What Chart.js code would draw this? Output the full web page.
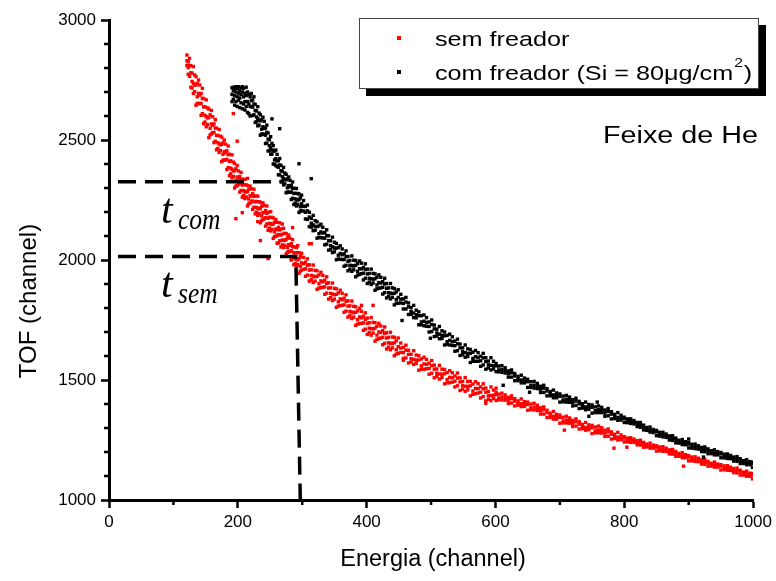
<!DOCTYPE html>
<html>
<head>
<meta charset="utf-8">
<script src="https://cdn.jsdelivr.net/npm/chart.js@4.4.1/dist/chart.umd.min.js"></script>
<style>
  html, body { margin: 0; padding: 0; background: #fff; }
  #wrap { width: 776px; height: 581px; }
</style>
</head>
<body>
<div id="wrap"><canvas id="tofChart" width="776" height="581"></canvas></div>
<script>
// each row: [Energia channel, TOF channel, TOF channel, ...]

// sem freador (red)
const SEM_FREADOR = [
  [121,2854,2810,2830],[123,2802,2774,2826],[125,2810,2765,2840],[127,2720,2780,2810],[129,2779,2716,2744],
  [131,2806,2736,2694],[133,2701,2771,2729],[135,2729,2645,2764],[137,2652,2736,2680],[139,2694,2750,2652],
  [141,2729,2652,2687],[143,2652,2603,2694],[145,2673,2610,2715],[147,2568,2638,2673],[149,2638,2575,2603],
  [151,2667,2597,2555],[153,2564,2634,2592],[155,2594,2510,2629],[157,2521,2605,2549],[159,2567,2623,2525],
  [161,2597,2531,2561],[163,2531,2489,2567],[165,2549,2495,2585],[167,2459,2519,2549],[169,2519,2465,2489],
  [171,2544,2484,2448],[173,2456,2516,2480],[175,2482,2410,2512],[177,2416,2488,2440],[179,2452,2500,2416],
  [181,2483,2417,2447],[183,2419,2377,2455],[185,2439,2385,2475],[187,2351,2411,2441],[189,2413,2359,2383],
  [191,2438,2378,2342],[193,2348,2408,2372,2610],[195,2372,2300,2402],[197,2308,2380,2332,2172],[199,2346,2394,2310,2495],
  [201,2371,2316,2341],[203,2318,2283,2348],[205,2335,2290,2365],[207,2262,2312,2337,2197],[209,2314,2269,2289],
  [211,2336,2286,2256],[213,2263,2313,2283],[215,2285,2225,2310,2340],[217,2234,2294,2254],[219,2268,2308,2238],
  [221,2297,2242,2267],[223,2246,2211,2276],[225,2265,2220,2295],[227,2192,2242,2267],[229,2244,2199,2219],
  [231,2266,2216,2186,2160],[233,2193,2243,2213],[235,2215,2155,2240,2081],[237,2164,2224,2184],[239,2198,2238,2168],
  [241,2227,2172,2197],[243,2176,2141,2206],[245,2195,2150,2225],[247,2124,2174,2199,2006],[249,2178,2133,2153],
  [251,2201,2151,2121],[253,2128,2178,2148],[255,2150,2090,2175],[257,2097,2157,2117],[259,2129,2169,2099],
  [261,2157,2102,2127,2070],[263,2106,2071,2136],[265,2125,2080,2155],[267,2054,2104,2129],[269,2108,2063,2083,2150],
  [271,2132,2082,2052],[273,2061,2111,2081],[275,2085,2025,2110],[277,2032,2092,2052],[279,2064,2104,2034],
  [281,2091,2036,2061],[283,2038,2003,2068,2000],[285,2055,2010,2085,2135],[287,1980,2030,2055],[289,2030,1985,2005],
  [291,2052,2002,1972],[293,1981,2031,2001,2060],[295,2005,1945,2030],[297,1954,2014,1974],[299,1988,2028,1958],
  [302,2011,1961,1984],[305,1963,1932,1991],[308,1978,1937,2005],[311,1912,1958,1980,2068],[314,1959,1918,1936,2068],
  [317,1979,1933,1906],[320,1912,1957,1930],[323,1932,1878,1955],[326,1883,1938,1901],[329,1913,1949,1885],
  [332,1936,1886,1909],[335,1888,1857,1916],[338,1903,1862,1930],[341,1837,1883,1905],[344,1884,1843,1861],
  [347,1904,1858,1831],[350,1837,1882,1855],[353,1857,1803,1880],[356,1808,1863,1826],[359,1838,1874,1810],
  [362,1861,1811,1834],[365,1813,1782,1841],[368,1828,1787,1855],[371,1762,1808,1830],[374,1809,1768,1786],
  [377,1829,1783,1756],[380,1762,1807,1780],[383,1782,1728,1805],[386,1733,1788,1751],[389,1763,1799,1735],
  [392,1786,1736,1759,1811],[395,1738,1707,1766],[398,1753,1712,1780],[401,1690,1736,1758],[404,1739,1698,1716],
  [407,1760,1714,1687],[410,1695,1740,1713,1811],[413,1716,1662,1739],[416,1669,1724,1687],[419,1700,1736,1672],
  [422,1725,1675,1698],[425,1678,1647,1706],[428,1694,1653,1721],[431,1629,1675,1697],[434,1678,1637,1655],
  [437,1699,1653,1626],[440,1634,1679,1652],[443,1655,1601,1678],[446,1608,1663,1626],[449,1639,1675,1611],
  [453,1654,1615,1633],[457,1614,1590,1636,1582],[461,1624,1592,1645],[465,1571,1607,1624],[469,1607,1575,1589],
  [473,1622,1586,1565],[477,1569,1604,1583],[481,1583,1541,1601],[485,1545,1588,1559],[489,1567,1595,1545],
  [493,1586,1547,1565],[497,1548,1524,1570],[501,1560,1528,1581],[505,1509,1545,1562],[509,1546,1514,1528],
  [513,1561,1525,1504],[517,1510,1545,1524],[521,1526,1484,1544],[525,1488,1531,1502],[529,1511,1539,1489],
  [533,1530,1491,1509],[537,1495,1471,1517],[541,1508,1476,1529],[545,1456,1492,1509],[549,1494,1462,1476],
  [553,1510,1474,1453],[557,1459,1494,1473],[561,1476,1434,1494],[565,1440,1483,1454],[569,1465,1493,1443],
  [573,1485,1446,1464],[577,1449,1425,1471],[581,1463,1431,1484],[585,1413,1449,1466,1403],[589,1452,1420,1434],
  [593,1471,1435,1414],[597,1423,1458,1437],[601,1439,1415,1449,1466],[605,1417,1441,1425],[610,1429,1445,1417],
  [615,1438,1416,1426],[620,1416,1402,1428],[625,1422,1404,1434],[630,1392,1412,1422],[635,1413,1395,1403],
  [640,1421,1401,1389],[645,1390,1410,1398],[650,1398,1374,1408],[655,1376,1400,1384],[660,1387,1403,1375],
  [665,1395,1373,1383],[670,1372,1358,1384],[675,1376,1358,1388],[680,1344,1364,1374],[685,1362,1344,1352],
  [690,1369,1349,1337],[695,1337,1357,1345],[700,1344,1320,1354],[705,1321,1345,1329],[707,1291],
  [710,1333,1349,1321],[715,1342,1320,1330],[720,1320,1306,1332],[725,1326,1308,1338],[730,1296,1316,1326],
  [735,1315,1297,1305],[740,1323,1303,1291],[745,1293,1313,1301],[750,1301,1277,1311],[755,1280,1304,1288],
  [760,1292,1308,1280],[765,1301,1279,1289],[770,1279,1265,1291],[775,1284,1266,1296],[780,1254,1274,1284],
  [784,1216],[785,1274,1256,1264],[790,1282,1262,1250],[795,1251,1271,1259],[800,1258,1242,1264],[804,1220],
  [805,1242,1258,1247],[810,1248,1259,1240],[815,1254,1240,1247],[820,1239,1230,1247],[825,1241,1229,1249],
  [830,1220,1233,1240],[835,1233,1221,1226],[840,1237,1224,1216],[845,1216,1229,1221],[850,1220,1204,1226],
  [855,1205,1221,1210],[860,1211,1222,1203],[865,1216,1202,1209],[870,1201,1192,1209],[875,1203,1191,1211],
  [880,1182,1195,1202],[885,1194,1182,1187],[890,1197,1184,1176],[892,1141],[895,1176,1189,1181],
  [900,1179,1163,1185],[905,1163,1179,1168],[910,1169,1180,1161],[915,1174,1160,1167],[920,1159,1150,1167],
  [925,1161,1149,1169],[930,1141,1154,1161],[935,1153,1141,1146],[940,1158,1145,1137],[945,1137,1150,1142],
  [950,1141,1125,1147],[955,1126,1142,1131],[960,1132,1143,1124],[965,1137,1123,1130],[970,1123,1114,1131],
  [975,1125,1113,1133],[980,1104,1117,1124],[985,1116,1104,1109],[990,1120,1107,1099],[995,1099,1112,1104],
  [999,1104,1088,1110]
];

// com freador (black)
const COM_FREADOR = [
  [191,2718,2690,2660],[193,2705,2670,2720],[195,2712,2645,2685],[197,2700,2660,2722],[199,2715,2640,2680],
  [201,2722,2665,2695],[203,2705,2635,2675],[205,2718,2655,2690],[207,2700,2630,2722],[209,2715,2650,2680],
  [211,2695,2625,2660],[213,2720,2640,2685],[215,2700,2615,2660],[217,2690,2610,2650],[219,2680,2600,2640],
  [221,2694,2639,2664],[223,2637,2602,2667],[225,2650,2605,2680],[227,2573,2623,2648],[229,2621,2576,2596],
  [231,2639,2589,2559],[233,2562,2612,2582],[235,2580,2520,2605],[237,2525,2585,2545],[239,2555,2595,2525],
  [241,2578,2523,2548],[243,2520,2485,2550],[245,2532,2487,2562],[247,2454,2504,2529],[249,2501,2456,2476],
  [251,2514,2468,2441],[253,2441,2486,2459,2588],[255,2454,2400,2477],[257,2399,2454,2417],[259,2422,2458,2394],
  [261,2440,2390,2413],[263,2386,2355,2414],[265,2396,2355,2423,2547],[267,2326,2372,2394],[269,2370,2329,2347],
  [271,2386,2340,2313],[273,2317,2362,2335],[275,2334,2280,2357],[277,2283,2338,2301],[279,2310,2346,2282],
  [281,2332,2282,2305],[283,2283,2252,2311],[285,2298,2257,2325],[287,2231,2277,2299],[289,2278,2237,2255],
  [291,2298,2252,2225],[293,2232,2277,2250],[295,2252,2198,2275,2401],[297,2204,2259,2222],[299,2234,2270,2206],
  [302,2248,2204,2224],[305,2199,2171,2223],[308,2205,2169,2229],[311,2139,2179,2199],[314,2173,2137,2153,2339],
  [317,2186,2146,2122],[320,2124,2164,2140],[323,2139,2091,2159],[326,2094,2142,2110],[329,2117,2149,2093],
  [332,2136,2092,2112],[335,2091,2063,2115],[338,2102,2066,2126],[341,2041,2081,2101],[344,2080,2044,2060],
  [347,2095,2055,2031],[350,2034,2074,2050],[353,2049,2001,2069],[356,2004,2052,2020],[359,2027,2059,2003],
  [362,2046,2002,2022],[365,2002,1974,2026],[368,2014,1978,2038],[371,1955,1995,2015],[374,1998,1962,1978],
  [377,2017,1977,1953],[380,1959,1999,1975],[383,1978,1930,1998],[386,1937,1985,1953],[389,1964,1996,1940],
  [392,1987,1943,1963],[395,1945,1917,1969],[398,1960,1924,1984],[401,1902,1942,1962],[404,1944,1908,1924],
  [407,1962,1922,1898],[410,1904,1944,1920],[413,1922,1874,1942],[416,1880,1928,1896],[419,1906,1938,1882],
  [422,1928,1884,1904],[425,1886,1858,1910],[428,1900,1864,1924],[431,1842,1882,1902],[434,1884,1848,1864],
  [437,1902,1862,1838],[440,1844,1884,1860],[443,1861,1813,1881],[446,1819,1867,1835],[449,1844,1876,1820],
  [453,1857,1821,1837],[455,1748],[457,1819,1796,1838],[461,1825,1796,1844],[465,1773,1805,1821],
  [469,1802,1773,1786],[473,1811,1779,1760],[477,1759,1791,1772],[481,1768,1730,1784],[485,1730,1768,1742],
  [489,1745,1771,1726],[493,1760,1724,1740],[497,1723,1700,1742],[499,1674],[501,1731,1702,1750],
  [505,1681,1713,1729],[509,1712,1683,1696],[513,1723,1691,1672],[517,1673,1705,1686],[521,1684,1646,1700],
  [525,1648,1686,1660],[529,1665,1691,1646],[533,1680,1644,1660],[537,1643,1620,1662],[541,1651,1622,1670],
  [545,1602,1634,1650],[549,1634,1605,1618],[553,1646,1614,1595],[557,1598,1630,1611],[561,1611,1573,1627],
  [565,1578,1616,1590],[569,1597,1623,1578],[573,1614,1578,1594],[577,1580,1557,1599],[581,1592,1563,1611],
  [585,1545,1577,1593],[589,1579,1550,1563],[593,1593,1561,1542],[597,1546,1578,1559],[601,1559,1535,1569],
  [605,1534,1558,1542],[610,1544,1560,1532],[612,1478],[615,1551,1529,1539],[620,1526,1512,1538],
  [625,1530,1512,1542],[630,1497,1517,1527],[635,1515,1497,1505],[640,1520,1500,1488],[645,1488,1508,1496],
  [650,1493,1469,1503],[653,1449],[655,1469,1493,1477],[660,1478,1494,1466],[665,1486,1464,1474],
  [670,1462,1448,1474],[675,1466,1448,1478],[680,1434,1454,1464],[685,1452,1434,1442],[690,1458,1438,1426],
  [695,1426,1446,1434],[700,1432,1408,1442],[705,1409,1433,1417],[710,1420,1436,1408],[715,1429,1407,1417],
  [720,1406,1392,1418],[725,1412,1394,1424],[730,1381,1401,1411],[735,1401,1383,1391],[740,1408,1388,1376],
  [745,1378,1398,1386,1349],[750,1386,1362,1396],[755,1364,1388,1372],[758,1408],[760,1376,1392,1364],
  [765,1386,1364,1374],[770,1363,1349,1375],[775,1369,1351,1381],[780,1338,1358,1368],[785,1357,1339,1347],
  [790,1364,1344,1332],[795,1333,1353,1341],[800,1339,1323,1345],[805,1322,1338,1327],[810,1327,1338,1319],
  [815,1331,1317,1324],[820,1315,1306,1323],[825,1315,1303,1323],[830,1292,1305,1312],[835,1302,1290,1295],
  [840,1304,1291,1283],[845,1281,1294,1286],[850,1284,1268,1290],[855,1266,1282,1271],[860,1271,1282,1263],
  [865,1275,1261,1268],[870,1259,1250,1267],[875,1260,1248,1268],[880,1238,1251,1258],[885,1249,1237,1242],
  [890,1252,1239,1231],[895,1230,1243,1235],[900,1233,1217,1239,1254],[905,1216,1232,1221],[910,1222,1233,1214],
  [915,1226,1212,1219],[920,1211,1202,1219],[923,1179],[925,1213,1201,1221],[930,1193,1206,1213],
  [935,1205,1193,1198],[940,1209,1196,1188],[945,1188,1201,1193],[950,1192,1176,1198],[955,1175,1191,1180],
  [960,1181,1192,1173],[965,1186,1172,1179],[970,1171,1162,1179],[975,1173,1161,1181],[980,1152,1165,1172],
  [985,1164,1152,1157],[990,1168,1155,1147],[995,1147,1160,1152],[999,1152,1136,1158]
];

// dashed guide lines marking t_com and t_sem
const T_COM_GUIDE = [[14, 2326], [272, 2326]];
const T_SEM_GUIDE = [[14, 2015], [290, 2015], [297, 1000]];

const X_MINOR = [100, 300, 500, 700, 900];
const Y_MINOR = [1100, 1200, 1300, 1400, 1600, 1700, 1800, 1900, 2100, 2200, 2300, 2400, 2600, 2700, 2800, 2900];

const SANS = "'Liberation Sans', Arial, sans-serif";
const SERIF = "'Liberation Serif', 'Times New Roman', serif";

function rowsToPoints(rows) {
  return rows.flatMap((r) => r.slice(1).map((y) => ({ x: r[0], y: y })));
}

function pairsToPoints(pairs) {
  return pairs.map((p) => ({ x: p[0], y: p[1] }));
}

function stretchedText(ctx, text, x, y, font, sx) {
  ctx.save();
  ctx.font = font;
  ctx.translate(x, y);
  ctx.scale(sx, 1);
  ctx.fillText(text, 0, 0);
  const w = ctx.measureText(text).width * sx;
  ctx.restore();
  return w;
}

const extrasPlugin = {
  id: "extras",
  afterDraw(chart) {
    const ctx = chart.ctx;
    const { left, bottom } = chart.chartArea;
    const xs = chart.scales.x;
    const ys = chart.scales.y;

    ctx.save();
    // minor ticks
    ctx.strokeStyle = "#000";
    ctx.lineWidth = 2.5;
    ctx.beginPath();
    X_MINOR.forEach((v) => {
      const px = xs.getPixelForValue(v);
      ctx.moveTo(px, bottom);
      ctx.lineTo(px, bottom + 5);
    });
    Y_MINOR.forEach((v) => {
      const py = ys.getPixelForValue(v);
      ctx.moveTo(left, py);
      ctx.lineTo(left - 5, py);
    });
    ctx.stroke();

    ctx.fillStyle = "#000";
    ctx.textBaseline = "alphabetic";

    // axis titles
    ctx.save();
    ctx.font = "24px " + SANS;
    ctx.textAlign = "center";
    ctx.textBaseline = "middle";
    ctx.translate(29, 301);
    ctx.rotate(-Math.PI / 2);
    ctx.fillText("TOF (channel)", 0, 0);
    ctx.restore();

    ctx.save();
    ctx.font = "23.5px " + SANS;
    ctx.textAlign = "center";
    ctx.textBaseline = "middle";
    ctx.fillText("Energia (channel)", 433, 560);
    ctx.restore();

    // legend box with shadow
    ctx.fillStyle = "#000";
    ctx.fillRect(366, 25, 400, 71);
    ctx.fillStyle = "#fff";
    ctx.fillRect(359, 18, 400, 71);
    ctx.strokeStyle = "#444";
    ctx.lineWidth = 1;
    ctx.strokeRect(359.5, 18.5, 399, 70);

    ctx.fillStyle = "#ff0000";
    ctx.fillRect(397, 36, 4, 4);
    ctx.fillStyle = "#000";
    ctx.fillRect(397, 70, 4, 4);

    const legFont = "21px " + SANS;
    stretchedText(ctx, "sem freador", 435, 46, legFont, 1.2);
    const w = stretchedText(ctx, "com freador (Si = 80\u03bcg/cm", 435, 80, legFont, 1.2);
    const w2 = stretchedText(ctx, "2", 436 + w, 67, "13px " + SANS, 1.2);
    stretchedText(ctx, ")", 437 + w + w2, 80, legFont, 1.2);

    // beam label
    ctx.save();
    ctx.font = "23px " + SANS;
    const fw = ctx.measureText("Feixe de He").width * 1.25;
    ctx.restore();
    stretchedText(ctx, "Feixe de He", 758 - fw, 143, "23px " + SANS, 1.25);

    // t labels
    stretchedText(ctx, "t", 161, 223, "italic 42px " + SERIF, 1);
    stretchedText(ctx, "com", 178, 229, "italic 30px " + SERIF, 0.85);
    stretchedText(ctx, "t", 161, 297, "italic 42px " + SERIF, 1);
    stretchedText(ctx, "sem", 178, 303, "italic 30px " + SERIF, 0.85);

    ctx.restore();
  },
};

const guideStyle = {
  showLine: true,
  borderColor: "#000",
  borderWidth: 3.5,
  borderDash: [18, 9],
  pointRadius: 0,
  fill: false,
};

const tickFont = { family: SANS, size: 17 };

new Chart(document.getElementById("tofChart").getContext("2d"), {
  type: "scatter",
  data: {
    datasets: [
      Object.assign({ label: "t_com", data: pairsToPoints(T_COM_GUIDE) }, guideStyle),
      Object.assign({ label: "t_sem", data: pairsToPoints(T_SEM_GUIDE) }, guideStyle),
      {
        label: "com freador",
        data: rowsToPoints(COM_FREADOR),
        pointStyle: "rect",
        pointRadius: 2.4,
        borderWidth: 0,
        backgroundColor: "#000",
        borderColor: "#000",
      },
      {
        label: "sem freador",
        data: rowsToPoints(SEM_FREADOR),
        pointStyle: "rect",
        pointRadius: 2.4,
        borderWidth: 0,
        backgroundColor: "#ff0000",
        borderColor: "#ff0000",
      },
    ],
  },
  options: {
    responsive: false,
    animation: false,
    layout: { padding: { top: 20, right: 19, left: 0, bottom: 0 } },
    plugins: {
      legend: { display: false },
      tooltip: { enabled: false },
    },
    scales: {
      x: {
        type: "linear",
        min: 0,
        max: 1000,
        afterFit: (scale) => { scale.height = 81; },
        ticks: {
          stepSize: 200,
          color: "#000",
          padding: 4,
          maxRotation: 0,
          font: tickFont,
          callback: (v) => String(v),
        },
        grid: {
          display: true,
          drawOnChartArea: false,
          tickLength: 8,
          tickWidth: 2.5,
          tickColor: "#000",
        },
        border: { display: true, color: "#000", width: 3 },
      },
      y: {
        type: "linear",
        min: 1000,
        max: 3000,
        afterFit: (scale) => { scale.width = 109; },
        ticks: {
          stepSize: 500,
          color: "#000",
          padding: 5,
          font: tickFont,
          callback: (v) => String(v),
        },
        grid: {
          display: true,
          drawOnChartArea: false,
          tickLength: 8,
          tickWidth: 2.5,
          tickColor: "#000",
        },
        border: { display: true, color: "#000", width: 3 },
      },
    },
  },
  plugins: [extrasPlugin],
});
</script>
</body>
</html>
